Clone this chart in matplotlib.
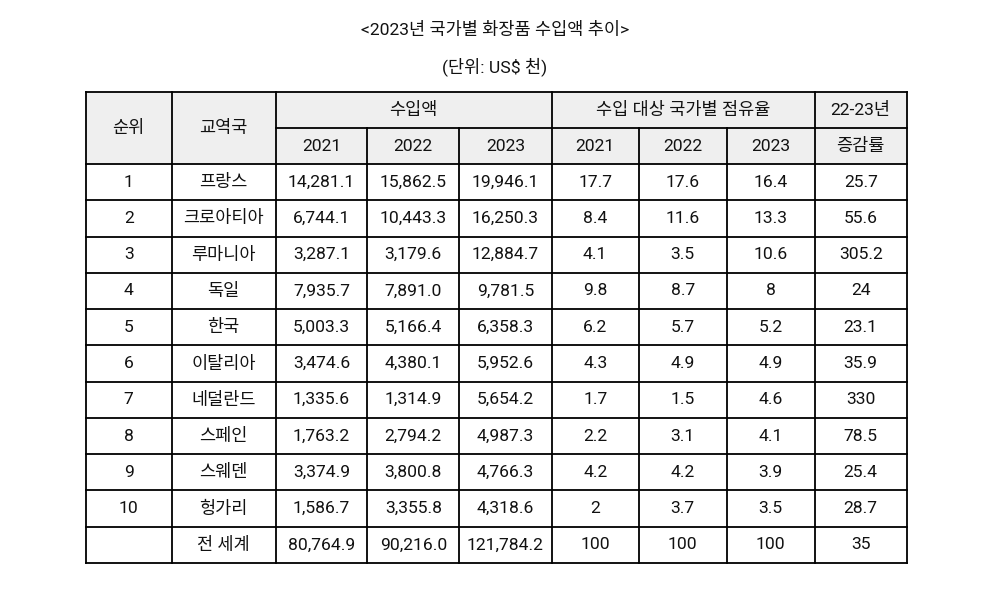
import matplotlib
matplotlib.use("Agg")
import matplotlib.pyplot as plt
from matplotlib.patches import Rectangle

plt.rcParams['font.family'] = ['Roboto', 'Noto Sans CJK KR', 'DejaVu Sans']

title = "<2023년 국가별 화장품 수입액 추이>"
subtitle = "(단위: US$ 천)"

ranks = ["1", "2", "3", "4", "5", "6", "7", "8", "9", "10", ""]
countries = ["프랑스", "크로아티아", "루마니아", "독일", "한국", "이탈리아",
             "네덜란드", "스페인", "스웨덴", "헝가리", "전 세계"]
imp_2021 = [14281.1, 6744.1, 3287.1, 7935.7, 5003.3, 3474.6, 1335.6, 1763.2, 3374.9, 1586.7, 80764.9]
imp_2022 = [15862.5, 10443.3, 3179.6, 7891.0, 5166.4, 4380.1, 1314.9, 2794.2, 3800.8, 3355.8, 90216.0]
imp_2023 = [19946.1, 16250.3, 12884.7, 9781.5, 6358.3, 5952.6, 5654.2, 4987.3, 4766.3, 4318.6, 121784.2]
share_2021 = [17.7, 8.4, 4.1, 9.8, 6.2, 4.3, 1.7, 2.2, 4.2, 2, 100]
share_2022 = [17.6, 11.6, 3.5, 8.7, 5.7, 4.9, 1.5, 3.1, 4.2, 3.7, 100]
share_2023 = [16.4, 13.3, 10.6, 8, 5.2, 4.9, 4.6, 4.1, 3.9, 3.5, 100]
growth = [25.7, 55.6, 305.2, 24, 23.1, 35.9, 330, 78.5, 25.4, 28.7, 35]

header_top = ["순위", "교역국", "수입액", "수입 대상 국가별 점유율", "22-23년"]
years = ["2021", "2022", "2023"]
growth_sub = "증감률"

W, H = 995, 615
fig = plt.figure(figsize=(W / 100, H / 100), dpi=100)
ax = fig.add_axes([0, 0, 1, 1])
ax.set_xlim(0, W)
ax.set_ylim(H, 0)
ax.axis('off')

xs = [85.7, 171.7, 275.7, 367.3, 459.3, 551.7, 638.7, 726.7, 814.7, 906.7]
y_top, y_mid, y_head = 92.3, 128.2, 164.0
y_bot = 563.0
n = len(countries)
rh = (y_bot - y_head) / n
ys = [y_head + i * rh for i in range(n + 1)]

fs = 12.6
lw = 1.3
col = "#111111"
hdr_fill = "#efefef"

ax.text(495, 30, title, ha='center', va='center', fontsize=fs, color=col)
ax.text(495, 67, subtitle, ha='center', va='center', fontsize=fs, color=col)

# header fill
ax.add_patch(Rectangle((xs[0], y_top), xs[-1] - xs[0], y_head - y_top,
                       facecolor=hdr_fill, edgecolor='none', zorder=0))

def hline(y, x0, x1):
    ax.plot([x0, x1], [y, y], color='black', lw=lw, solid_capstyle='projecting', zorder=3)

def vline(x, y0, y1):
    ax.plot([x, x], [y0, y1], color='black', lw=lw, solid_capstyle='projecting', zorder=3)

# horizontal lines
hline(y_top, xs[0], xs[-1])
hline(y_mid, xs[2], xs[-1])
for y in ys:
    hline(y, xs[0], xs[-1])
# vertical lines
for i, x in enumerate(xs):
    if i in (3, 4, 6, 7):
        vline(x, y_mid, y_bot)
    else:
        vline(x, y_top, y_bot)

def cx(i0, i1):
    return (xs[i0] + xs[i1]) / 2

# header text
ax.text(cx(0, 1), (y_top + y_head) / 2, header_top[0], ha='center', va='center', fontsize=fs, color=col)
ax.text(cx(1, 2), (y_top + y_head) / 2, header_top[1], ha='center', va='center', fontsize=fs, color=col)
ax.text(cx(2, 5), (y_top + y_mid) / 2, header_top[2], ha='center', va='center', fontsize=fs, color=col)
ax.text(cx(5, 8), (y_top + y_mid) / 2, header_top[3], ha='center', va='center', fontsize=fs, color=col)
ax.text(cx(8, 9), (y_top + y_mid) / 2, header_top[4], ha='center', va='center', fontsize=fs, color=col)
for k, yr in enumerate(years):
    ax.text(cx(2 + k, 3 + k), (y_mid + y_head) / 2, yr, ha='center', va='center', fontsize=fs, color=col)
    ax.text(cx(5 + k, 6 + k), (y_mid + y_head) / 2, yr, ha='center', va='center', fontsize=fs, color=col)
ax.text(cx(8, 9), (y_mid + y_head) / 2, growth_sub, ha='center', va='center', fontsize=fs, color=col)

# body
for r in range(n):
    yc = (ys[r] + ys[r + 1]) / 2
    cells = [ranks[r], countries[r],
             f"{imp_2021[r]:,.1f}", f"{imp_2022[r]:,.1f}", f"{imp_2023[r]:,.1f}",
             f"{share_2021[r]:g}", f"{share_2022[r]:g}", f"{share_2023[r]:g}",
             f"{growth[r]:g}"]
    for c, t in enumerate(cells):
        ax.text(cx(c, c + 1), yc, t, ha='center', va='center', fontsize=fs, color=col)

fig.savefig("out.png", dpi=100, facecolor='white')
